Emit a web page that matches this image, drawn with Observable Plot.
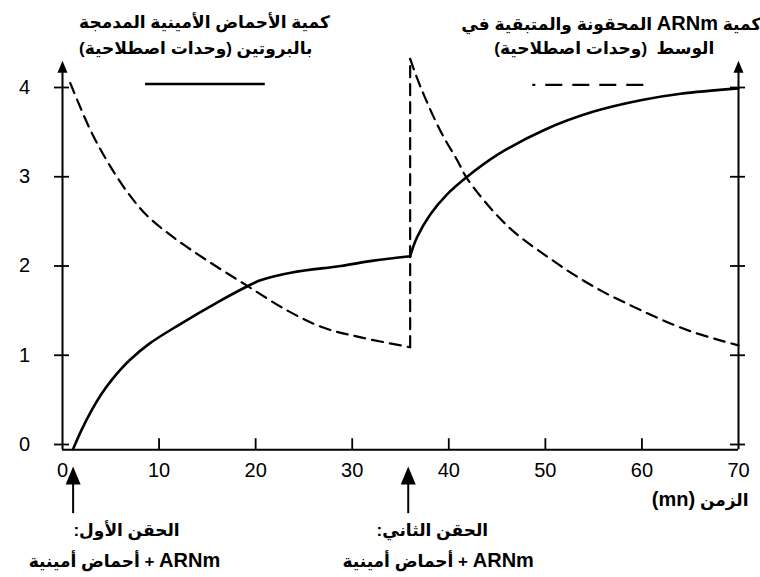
<!DOCTYPE html>
<html><head><meta charset="utf-8">
<script src="https://cdn.jsdelivr.net/npm/d3@7"></script>
<script src="https://cdn.jsdelivr.net/npm/@observablehq/plot@0.6"></script>
<style>body{margin:0;background:#fff}</style>
</head><body><div id="chart"></div>
<script>
// ---- data ----
const xTicks = [0, 10, 20, 30, 40, 50, 60, 70];
const xTickLabels = ["0", "10", "20", "30", "40", "50", "60", "70"];
const yTicks = [0, 1, 2, 3, 4];
const yTickLabels = ["0", "1", "2", "3", "4"];

// amino acids incorporated into protein (solid)
const solidT1 = [1.1, 2.0, 3.0, 4.0, 5.0, 6.0, 7.0, 9.0, 11.9, 16.0, 19.1, 20.5, 23.9, 28.8, 32.2, 36.0];
const solidV1 = [-0.05, 0.17, 0.38, 0.56, 0.71, 0.84, 0.95, 1.13, 1.33, 1.59, 1.77, 1.84, 1.93, 2.0, 2.06, 2.11];
const solidT2 = [36.0, 36.7, 38.1, 39.8, 41.9, 45.1, 50, 55, 60, 64, 70];
const solidV2 = [2.11, 2.32, 2.58, 2.8, 3.0, 3.25, 3.53, 3.73, 3.86, 3.93, 3.99];

// injected mRNA remaining in medium (dashed)
const dashT1 = [0.8, 2.9, 4.6, 6.7, 8.8, 11.5, 15.0, 19.1, 23.3, 27.0, 30.9, 36.0];
const dashV1 = [4.05, 3.52, 3.18, 2.83, 2.56, 2.32, 2.06, 1.78, 1.5, 1.31, 1.2, 1.09];
const dashTJump = [36.0, 36.0];
const dashVJump = [1.09, 4.32];
const dashT2 = [36.0, 37.1, 39.1, 40.9, 41.9, 44.8, 47, 50, 53, 56, 59, 62, 65, 68, 70];
const dashV2 = [4.32, 4.0, 3.52, 3.18, 2.98, 2.59, 2.36, 2.12, 1.9, 1.71, 1.55, 1.4, 1.27, 1.17, 1.11];

const injectionTimes = [1.1, 35.8];

const titleLeft = ["كمية الأحماض الأمينية المدمجة", "بالبروتين (وحدات اصطلاحية)"];
const titleRight = ["كمية ARNm المحقونة والمتبقية في", "الوسط  (وحدات اصطلاحية)"];
const xTitle = "الزمن (mn)";
const injection1 = ["الحقن الأول:", "ARNm + أحماض أمينية"];
const injection2 = ["الحقن الثاني:", "ARNm + أحماض أمينية"];

// ---- build tables ----
const solid = [
  ...solidT1.map((t, i) => ({t, v: solidV1[i], seg: "a"})),
  ...solidT2.map((t, i) => ({t, v: solidV2[i], seg: "b"}))
];
const dashed = [
  ...dashT1.map((t, i) => ({t, v: dashV1[i], seg: "a"})),
  ...dashTJump.map((t, i) => ({t, v: dashVJump[i], seg: "j"})),
  ...dashT2.map((t, i) => ({t, v: dashV2[i], seg: "b"}))
];
const yTickRows = [0, 70].flatMap(ax => yTicks.map(v => ({ax, v})));
const innerXTicks = xTicks.filter(t => t > 0 && t < 70);

const arrowHead = {
  draw(ctx, size) {
    const r = Math.sqrt(size / Math.PI);
    ctx.moveTo(0, 0);
    ctx.lineTo(r / 2, 1.2 * r);
    ctx.lineTo(-r / 2, 1.2 * r);
    ctx.closePath();
  }
};

const base = -0.06;
const bold = {fontWeight: "bold", fontSize: 17, fill: "black"};

const chart = Plot.plot({
  width: 760,
  height: 577,
  marginLeft: 62,
  marginRight: 22,
  marginTop: 87,
  marginBottom: 133,
  x: {domain: [0, 70], axis: null},
  y: {domain: [0, 4], axis: null},
  style: {fontFamily: "'Liberation Sans', Arial, 'DejaVu Sans', sans-serif", fontSize: "20px", background: "white", overflow: "visible"},
  marks: [
    // curves
    Plot.line(dashed, {x: "t", y: "v", z: "seg", curve: "catmull-rom", stroke: "black", strokeWidth: 2.2, strokeDasharray: "11,7"}),
    Plot.line(solid, {x: "t", y: "v", z: "seg", curve: "catmull-rom", stroke: "black", strokeWidth: 2.6}),
    // axes
    Plot.ruleY([base], {x1: 0, x2: 70, stroke: "black", strokeWidth: 2}),
    Plot.ruleX([0, 70], {x: d => d, y1: base, y2: 4.2, stroke: "black", strokeWidth: 2}),
    Plot.dot([0, 70], {x: d => d, y: 4.3, symbol: arrowHead, r: 10, fill: "black", stroke: null}),
    Plot.ruleY(yTickRows, {y: "v", x1: "ax", x2: "ax", insetLeft: -8, insetRight: -7, stroke: "black", strokeWidth: 1.8}),
    Plot.ruleX(innerXTicks, {x: d => d, y1: base, y2: 0.065, stroke: "black", strokeWidth: 1.8}),
    Plot.text(xTicks, {x: d => d, y: base, dy: 21, text: (d, i) => xTickLabels[i], fontSize: 20, fill: "black"}),
    Plot.text(yTicks, {x: 0, y: d => d, dx: -38, text: (d, i) => yTickLabels[i], fontSize: 20, fill: "black"}),
    // legend
    Plot.ruleY([4.04], {x1: 8.6, x2: 21.0, stroke: "black", strokeWidth: 2.6}),
    Plot.ruleY([4.03], {x1: 48.7, x2: 60.7, stroke: "black", strokeWidth: 2.2, strokeDasharray: "17,10", strokeDashoffset: 14}),
    // titles
    Plot.text([titleLeft[0]], {x: 14.7, y: 4.728, text: d => d, ...bold}),
    Plot.text([titleLeft[1]], {x: 13.8, y: 4.437, text: d => d, ...bold}),
    Plot.text([titleRight[0]], {x: 41.3, y: 4.70, text: d => d, textAnchor: "end", ...bold}),
    Plot.text([titleRight[1]], {x: 56.1, y: 4.437, text: d => d, ...bold}),
    Plot.text([xTitle], {x: 71.04, y: -0.627, text: d => d, textAnchor: "start", ...bold}),
    // injection arrows
    Plot.ruleX(injectionTimes, {x: d => d, y1: -0.35, y2: -0.775, stroke: "black", strokeWidth: 2}),
    Plot.dot(injectionTimes, {x: d => d, y: -0.246, symbol: arrowHead, r: 15, fill: "black", stroke: null}),
    Plot.text([injection1[0]], {x: 6.63, y: -0.964, text: d => d, ...bold}),
    Plot.text([injection1[1]], {x: 6.42, y: -1.31, text: d => d, ...bold}),
    Plot.text([injection2[0]], {x: 38.3, y: -0.964, text: d => d, ...bold}),
    Plot.text([injection2[1]], {x: 38.9, y: -1.31, text: d => d, ...bold})
  ]
});
const SVGNS = "http://www.w3.org/2000/svg";
chart.querySelectorAll("text").forEach(t => {
  const s = t.textContent;
  if (!/[\u0600-\u06FF]/.test(s)) return;
  t.setAttribute("direction", "rtl");
  const parts = s.split(/(ARNm|\(mn\))/);
  if (parts.length > 1) {
    t.textContent = "";
    parts.forEach(p => {
      if (!p) return;
      const ts = document.createElementNS(SVGNS, "tspan");
      ts.textContent = p;
      if (p === "ARNm" || p === "(mn)") ts.setAttribute("font-size", "20");
      t.append(ts);
    });
  }
});
document.getElementById("chart").append(chart);
</script>
</body></html>
